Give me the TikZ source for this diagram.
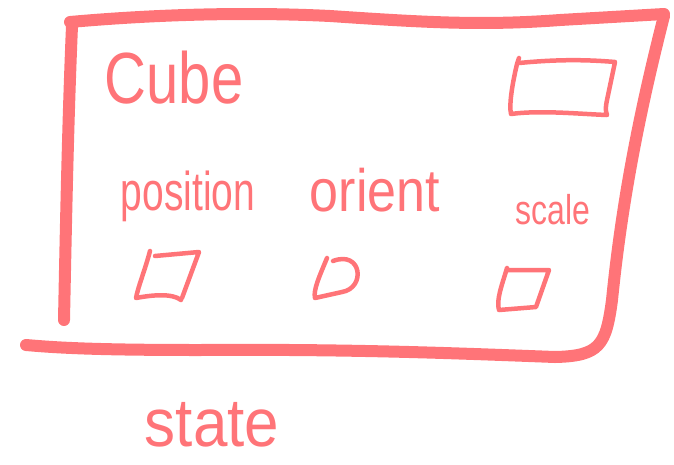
\documentclass[tikz,border=0pt]{standalone}
\usepackage{fontspec}
\usepackage{graphicx}
\setmainfont{Liberation Sans}
\definecolor{ink}{RGB}{255,116,120}
\begin{document}
\begin{tikzpicture}[x=1pt,y=-1pt,
  frame/.style={draw=ink,line width=12pt,line cap=round,line join=round},
  thin/.style={draw=ink,line width=4.5pt,line cap=round,line join=round},
  lbl/.style={text=ink,inner sep=0pt,anchor=center}]
\useasboundingbox (0,0) rectangle (674,464);
% big frame
\draw[frame] (70,22) .. controls (160,14) and (250,12) .. (330,16)
  .. controls (420,22) and (480,26) .. (560,20) -- (664,14);
\draw[frame] (72,26) .. controls (68,120) and (66,220) .. (64,320);
\draw[frame] (664,16) .. controls (640,110) and (622,200) .. (612,300)
  .. controls (606,345) and (600,356) .. (555,357)
  .. controls (450,353) and (350,349) .. (200,350) .. controls (100,350) and (60,348) .. (26,345);
% small rectangle upper right
\draw[thin] (519,58) -- (517,64) .. controls (512,85) and (509,105) .. (511,114)
  .. controls (540,110) and (580,114) .. (607,115) .. controls (605,110) and (606,105) .. (607,100)
  -- (615,62) .. controls (580,59) and (550,60) .. (519,63);
% text
\node[lbl] (cube) at (174,78) {\scalebox{1}[1.25]{\fontsize{58}{60}\selectfont Cube}};
\node[lbl] (pos) at (188,196) {\scalebox{1}[1.4]{\fontsize{39}{40}\selectfont position}};
\node[lbl] (ori) at (375,190) {\scalebox{1}[1.15]{\fontsize{52}{54}\selectfont orient}};
\node[lbl] (scl) at (553,210) {\scalebox{1}[1.3]{\fontsize{32}{34}\selectfont scale}};
\node[lbl] (st) at (212,425) {\scalebox{1}[1.1]{\fontsize{62}{64}\selectfont state}};
% small boxes
\draw[thin] (150,251) .. controls (145,270) and (138,287) .. (136,298)
  .. controls (152,295) and (172,293) .. (181,300);
\draw[thin] (155,256) -- (199,252) -- (182,298);
\draw[thin] (327,258) .. controls (320,275) and (313,290) .. (315,298)
  -- (342,292) .. controls (366,288) and (362,250) .. (333,261);
\draw[thin] (507,268) .. controls (502,285) and (496,300) .. (499,310)
  -- (536,307) -- (549,270) -- (507,270);
\end{tikzpicture}
\end{document}
